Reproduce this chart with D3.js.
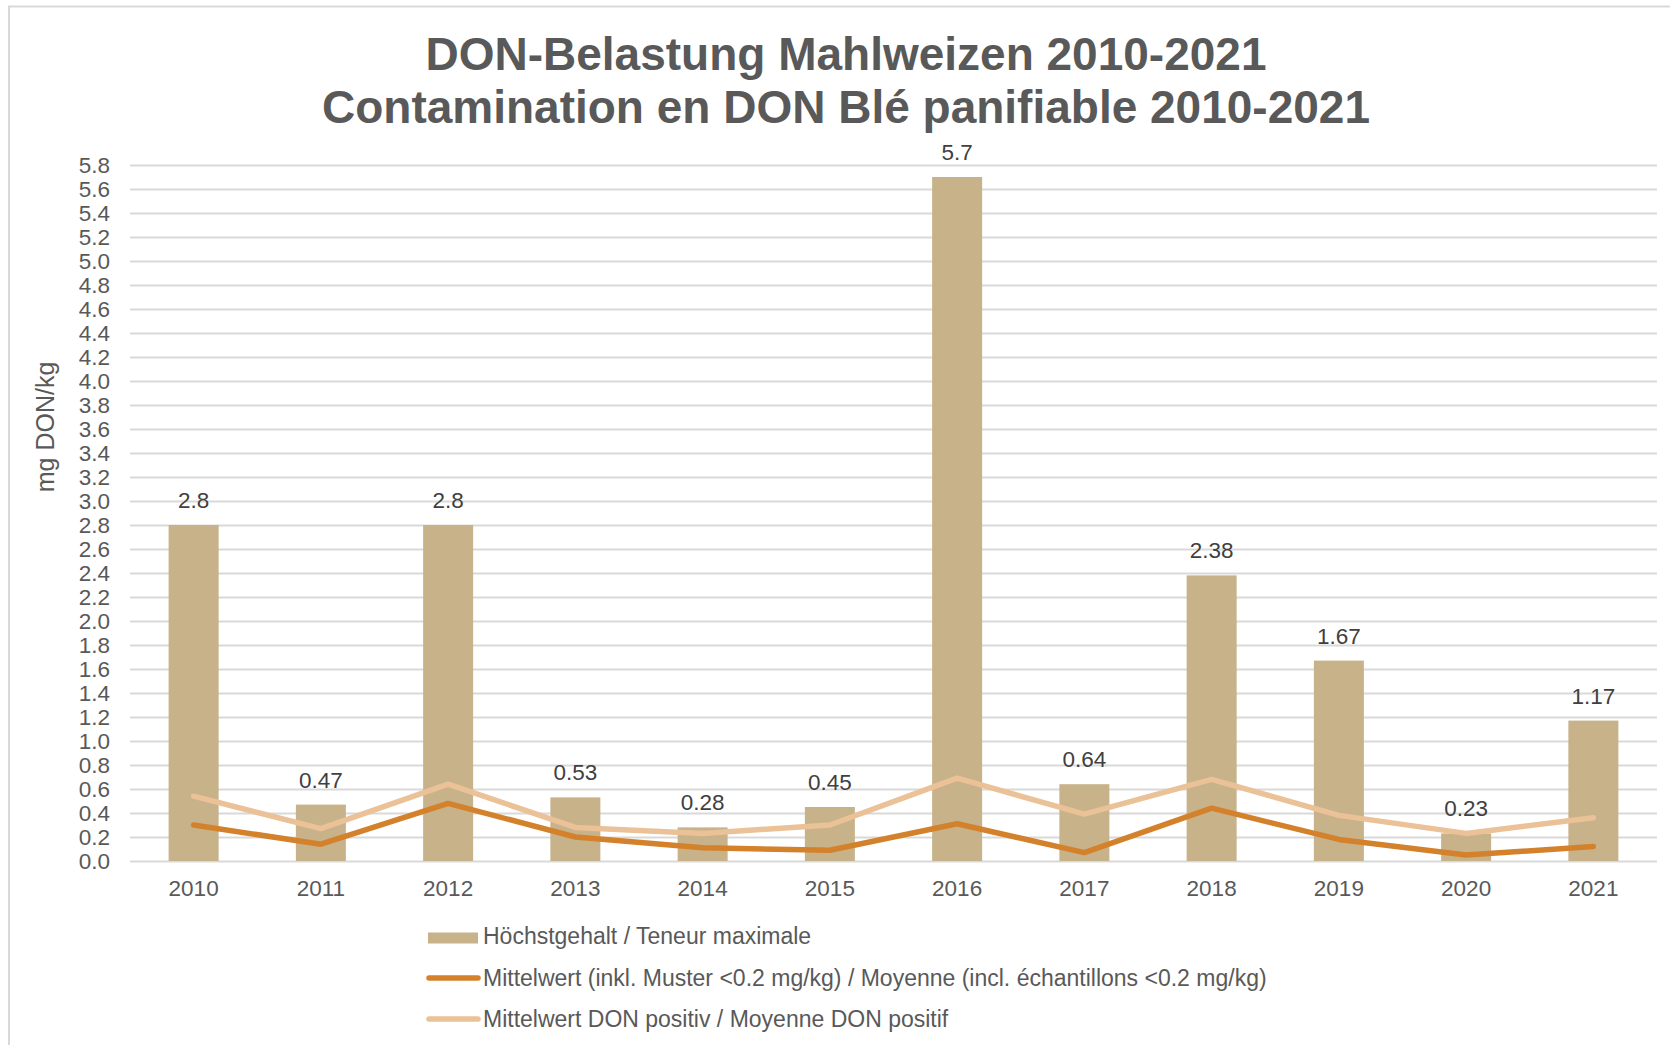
<!DOCTYPE html>
<html>
<head>
<meta charset="utf-8">
<script src="https://cdn.jsdelivr.net/npm/d3@7"></script>
<style>
  body { margin: 0; background: #fff; }
  svg { display: block; font-family: 'Liberation Sans', Arial, sans-serif; }
  .axis .domain { display: none; }
  .axis line { stroke: #d9d9d9; stroke-width: 1.8; }
  .axis text { fill: #595959; font-size: 22.5px; }
</style>
</head>
<body>
<div id="chart"></div>
<script>
const years = ['2010', '2011', '2012', '2013', '2014', '2015', '2016', '2017', '2018', '2019', '2020', '2021'];
const maxValues = [2.8, 0.47, 2.8, 0.53, 0.28, 0.45, 5.7, 0.64, 2.38, 1.67, 0.23, 1.17];
const meanAll = [0.30, 0.14, 0.48, 0.20, 0.11, 0.09, 0.31, 0.07, 0.44, 0.18, 0.05, 0.12];
const meanPositive = [0.54, 0.27, 0.64, 0.28, 0.23, 0.30, 0.69, 0.39, 0.68, 0.38, 0.23, 0.36];
const yTicks = [0, 0.2, 0.4, 0.6, 0.8, 1.0, 1.2, 1.4, 1.6, 1.8, 2.0, 2.2, 2.4, 2.6, 2.8,
  3.0, 3.2, 3.4, 3.6, 3.8, 4.0, 4.2, 4.4, 4.6, 4.8, 5.0, 5.2, 5.4, 5.6, 5.8];
const titleLines = ['DON-Belastung Mahlweizen 2010-2021', 'Contamination en DON Blé panifiable 2010-2021'];
const yTitle = 'mg DON/kg';
const legendLabels = [
  'Höchstgehalt / Teneur maximale',
  'Mittelwert (inkl. Muster <0.2 mg/kg) / Moyenne (incl. échantillons <0.2 mg/kg)',
  'Mittelwert DON positiv / Moyenne DON positif'
];

const colors = { bar: '#c8b28a', dark: '#d4812b', light: '#ebc197', text: '#595959', label: '#404040' };

const width = 1670;
const height = 1045;
const plot = { left: 130, right: 1657, top: 165, bottom: 861 };

const svg = d3.select('#chart')
  .append('svg')
  .attr('width', width)
  .attr('height', height);

// chart frame (only top + left edges visible in the crop)
svg.append('path')
  .attr('d', `M9,${height} V6.5 H${width}`)
  .attr('fill', 'none')
  .attr('stroke', '#d9d9d9')
  .attr('stroke-width', 2);

const x = d3.scaleBand()
  .domain(years)
  .range([plot.left, plot.right])
  .paddingInner(0.607)
  .paddingOuter(0.3035);

const y = d3.scaleLinear()
  .domain([0, 5.8])
  .range([plot.bottom, plot.top]);

const cx = d => x(d) + x.bandwidth() / 2;

// title
svg.append('text')
  .attr('x', 846)
  .attr('text-anchor', 'middle')
  .attr('fill', colors.text)
  .style('font-size', '46px')
  .style('font-weight', 'bold')
  .selectAll('tspan')
  .data(titleLines)
  .enter()
  .append('tspan')
  .attr('x', 846)
  .attr('y', (d, i) => 70 + i * 52.5)
  .text(d => d);

// y axis with gridlines
const yAxis = d3.axisLeft(y)
  .tickValues(yTicks)
  .tickSize(-(plot.right - plot.left))
  .tickPadding(20)
  .tickFormat(d3.format('.1f'));

svg.append('g')
  .attr('class', 'y axis')
  .attr('transform', `translate(${plot.left},0)`)
  .call(yAxis);

// x axis labels
const xAxis = d3.axisBottom(x).tickSize(0);

svg.append('g')
  .attr('class', 'x axis')
  .attr('transform', `translate(0,${plot.bottom})`)
  .call(xAxis)
  .selectAll('text')
  .attr('y', 35)
  .attr('dy', 0);

// y axis title
svg.append('text')
  .attr('transform', 'translate(54,427) rotate(-90)')
  .attr('text-anchor', 'middle')
  .attr('fill', colors.text)
  .style('font-size', '25px')
  .text(yTitle);

// bars
svg.append('g')
  .selectAll('rect')
  .data(years)
  .enter()
  .append('rect')
  .attr('x', d => x(d))
  .attr('width', x.bandwidth())
  .attr('y', (d, i) => y(maxValues[i]))
  .attr('height', (d, i) => y(0) - y(maxValues[i]))
  .attr('fill', colors.bar);

// lines
const line = d3.line()
  .x((d, i) => cx(years[i]))
  .y(d => y(d));

svg.append('path')
  .attr('d', line(meanAll))
  .attr('fill', 'none')
  .attr('stroke', colors.dark)
  .attr('stroke-width', 5.5)
  .attr('stroke-linejoin', 'round')
  .attr('stroke-linecap', 'round');

svg.append('path')
  .attr('d', line(meanPositive))
  .attr('fill', 'none')
  .attr('stroke', colors.light)
  .attr('stroke-width', 5.5)
  .attr('stroke-linejoin', 'round')
  .attr('stroke-linecap', 'round');

// bar value labels
svg.append('g')
  .selectAll('text')
  .data(years)
  .enter()
  .append('text')
  .attr('x', d => cx(d))
  .attr('y', (d, i) => y(maxValues[i]) - 17)
  .attr('text-anchor', 'middle')
  .attr('fill', colors.label)
  .style('font-size', '22.5px')
  .text((d, i) => String(maxValues[i]));

// legend
const legendRows = [944, 985.5, 1026.5];
const legend = svg.append('g');

legend.append('rect')
  .attr('x', 428)
  .attr('y', legendRows[0] - 11.5)
  .attr('width', 50)
  .attr('height', 11)
  .attr('fill', colors.bar);

[colors.dark, colors.light].forEach((c, i) => {
  legend.append('line')
    .attr('x1', 429)
    .attr('x2', 478)
    .attr('y1', legendRows[i + 1] - 7.5)
    .attr('y2', legendRows[i + 1] - 7.5)
    .attr('stroke', c)
    .attr('stroke-width', 5.5)
    .attr('stroke-linecap', 'round');
});

legend.selectAll('text')
  .data(legendLabels)
  .enter()
  .append('text')
  .attr('x', 483)
  .attr('y', (d, i) => legendRows[i])
  .attr('fill', colors.text)
  .style('font-size', '23px')
  .text(d => d);
</script>
</body>
</html>
